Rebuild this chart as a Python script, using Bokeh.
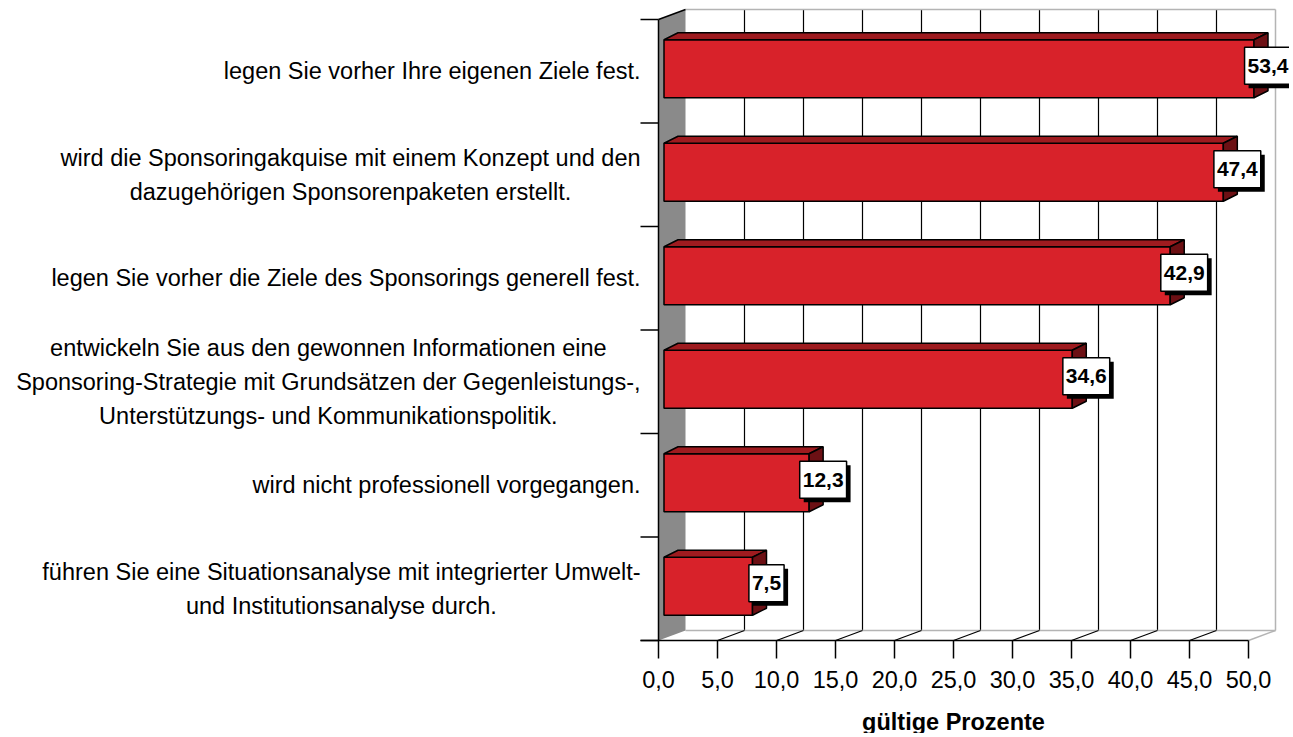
from bokeh.plotting import figure
from bokeh.models import Range1d
from bokeh.core.properties import value
from bokeh.embed import file_html
from bokeh.resources import INLINE

# ---------------- data ----------------
categories = [
    "legen Sie vorher Ihre eigenen Ziele fest.",
    "wird die Sponsoringakquise mit einem Konzept und den\ndazugehörigen Sponsorenpaketen erstellt.",
    "legen Sie vorher die Ziele des Sponsorings generell fest.",
    "entwickeln Sie aus den gewonnen Informationen eine\nSponsoring-Strategie mit Grundsätzen der Gegenleistungs-,\nUnterstützungs- und Kommunikationspolitik.",
    "wird nicht professionell vorgegangen.",
    "führen Sie eine Situationsanalyse mit integrierter Umwelt-\nund Institutionsanalyse durch.",
]
percent = [53.4, 47.4, 42.9, 34.6, 12.3, 7.5]
x_ticks = [0, 5, 10, 15, 20, 25, 30, 35, 40, 45, 50]
x_tick_labels = ["0,0", "5,0", "10,0", "15,0", "20,0", "25,0", "30,0", "35,0", "40,0", "45,0", "50,0"]
axis_title = "gültige Prozente"
axis_max = 50

# ---------------- layout / style ----------------
W, H, PAGE = 1289, 733, 0
X0 = 658.0          # screen x of value 0 on the front plane
PXU = 11.8          # px per percent
Y_TOP, Y_BOT = 19.0, 640.0
N = len(categories)
BAND = (Y_BOT - Y_TOP) / N
FONT = "Liberation Sans"

WALL_DX, WALL_DY = 27, 10     # depth of the back wall (px)
BAR_DX, BAR_DY = 14, 7        # depth of a bar (px)
BAR_OX, BAR_OY = 5.5, 2.5     # plane of the bars relative to front
BAR_HALF = 29                 # half height of bar front face (px)
TICK = 18

RED = "#d8222a"
RED_TOP = "#9e1b1f"
RED_SIDE = "#6c1014"
WALL_GRAY = "#8a8a8a"
LINE_GRAY = "#b4b4b4"

def px(d):
    return d / PXU

def py(d):
    return d / BAND

AW = {' ': 278, ',': 278, '-': 333, '.': 278,
      'A': 667, 'B': 667, 'C': 722, 'D': 722, 'E': 667, 'F': 611, 'G': 778, 'H': 722, 'I': 278,
      'J': 500, 'K': 667, 'L': 556, 'M': 833, 'N': 722, 'O': 778, 'P': 667, 'Q': 778, 'R': 722,
      'S': 667, 'T': 611, 'U': 722, 'V': 667, 'W': 944, 'X': 667, 'Y': 667, 'Z': 611,
      'a': 556, 'b': 556, 'c': 500, 'd': 556, 'e': 556, 'f': 278, 'g': 556, 'h': 556, 'i': 222,
      'j': 222, 'k': 500, 'l': 222, 'm': 833, 'n': 556, 'o': 556, 'p': 556, 'q': 556, 'r': 333,
      's': 500, 't': 278, 'u': 556, 'v': 500, 'w': 722, 'x': 500, 'y': 500, 'z': 500,
      'ä': 556, 'ö': 556, 'ü': 556, 'ß': 611}

def text_width(s, size):
    return sum(AW.get(c, 556) for c in s) * size / 1000.0

x_range = Range1d((PAGE - X0) / PXU, (PAGE + W - X0) / PXU)
y_range = Range1d((Y_BOT - (PAGE + H)) / BAND, (Y_BOT - PAGE) / BAND)

p = figure(width=W, height=H, x_range=x_range, y_range=y_range,
           output_backend="svg", toolbar_location=None,
           x_axis_location=None, y_axis_location=None,
           min_border=0, outline_line_color=None,
           background_fill_color="white", border_fill_color="white")
p.grid.visible = False

bx, by = px(WALL_DX), py(WALL_DY)

# back wall grid lines
grid_v = [t for t in x_ticks if 0 < t < axis_max]
p.segment(x0=[t + bx for t in grid_v], y0=[by] * len(grid_v),
          x1=[t + bx for t in grid_v], y1=[N + by] * len(grid_v),
          line_color="black", line_width=1.2)
# back wall borders
p.segment(x0=[bx, axis_max + bx, bx], y0=[N + by, by, by],
          x1=[axis_max + bx, axis_max + bx, axis_max + bx], y1=[N + by, N + by, by],
          line_color=LINE_GRAY, line_width=1.5)
# floor slanted lines
p.segment(x0=grid_v, y0=[0] * len(grid_v),
          x1=[t + bx for t in grid_v], y1=[by] * len(grid_v),
          line_color="black", line_width=1.2)
p.segment(x0=[axis_max], y0=[0], x1=[axis_max + bx], y1=[by],
          line_color=LINE_GRAY, line_width=1.5)

# left gray wall
p.patch(x=[0, 0, bx, bx], y=[0, N, N + by, by], fill_color=WALL_GRAY, line_color=None)
p.segment(x0=[0, 0], y0=[0, N], x1=[0, bx], y1=[N, N + by], line_color="black", line_width=1.5)

# y ticks and x axis line
p.segment(x0=[-px(TICK)] * (N + 1), y0=list(range(N + 1)),
          x1=[0] * (N + 1), y1=list(range(N + 1)), line_color="black", line_width=1.5)
p.segment(x0=[-px(TICK)], y0=[0], x1=[axis_max], y1=[0], line_color="black", line_width=1.5)
# x ticks
p.segment(x0=x_ticks, y0=[0] * len(x_ticks), x1=x_ticks, y1=[-py(TICK)] * len(x_ticks),
          line_color="black", line_width=1.5)
p.text(x=x_ticks, y=[-py(39)] * len(x_ticks), text=x_tick_labels,
       text_font=value(FONT), text_font_size=value("23.5px"), text_color="black",
       text_align="center", text_baseline="middle")
p.text(x=[axis_max / 2], y=[-py(81)], text=[axis_title],
       text_font=value(FONT), text_font_size=value("23.5px"), text_font_style="bold",
       text_color="black", text_align="center", text_baseline="middle")

# bars
front_l, front_r, front_b, front_t = [], [], [], []
top_xs, top_ys, side_xs, side_ys = [], [], [], []
lab_x, lab_y, lab_w, lab_txt = [], [], [], []
for i, v in enumerate(percent):
    uc = N - (i + 0.5) + py(BAR_OY)
    x0 = px(BAR_OX)
    x1 = min(v, axis_max) + px(BAR_OX)
    b, t = uc - py(BAR_HALF), uc + py(BAR_HALF)
    front_l.append(x0); front_r.append(x1); front_b.append(b); front_t.append(t)
    dx, dy = px(BAR_DX), py(BAR_DY)
    top_xs.append([x0, x1, x1 + dx, x0 + dx]); top_ys.append([t, t, t + dy, t + dy])
    side_xs.append([x1, x1, x1 + dx, x1 + dx]); side_ys.append([b, t, t + dy, b + dy])
    s = f"{v:.1f}".replace(".", ",")
    lab_txt.append(s)
    lab_x.append(x1 + dx)
    lab_y.append(uc + py(3))
    lab_w.append(text_width(s, 21) + 6)

p.quad(left=front_l, right=front_r, bottom=front_b, top=front_t,
       fill_color=RED, line_color="black", line_width=1.5)
p.patches(xs=top_xs, ys=top_ys, fill_color=RED_TOP, line_color="black", line_width=1.5)
p.patches(xs=side_xs, ys=side_ys, fill_color=RED_SIDE, line_color="black", line_width=1.5)

# value label boxes (shadow + box + text)
p.rect(x=[x + px(4) for x in lab_x], y=[y - py(4) for y in lab_y], width=lab_w, height=37,
       width_units="screen", height_units="screen", fill_color="black", line_color=None)
p.rect(x=lab_x, y=lab_y, width=lab_w, height=37, width_units="screen", height_units="screen",
       fill_color="white", line_color="black", line_width=1.5)
p.text(x=lab_x, y=lab_y, text=lab_txt, text_font=value(FONT), text_font_size=value("21px"),
       text_font_style="bold", text_color="black", text_align="center", text_baseline="middle")

# category labels (block right-aligned at the axis, lines centred)
RIGHT_EDGE = 640.0
cat_x, cat_y = [], []
for i, c in enumerate(categories):
    w = max(text_width(line, 23.5) for line in c.split("\n"))
    cat_x.append((RIGHT_EDGE - w / 2 - X0) / PXU)
    cat_y.append(N - (i + 0.5))
p.text(x=cat_x, y=cat_y, text=categories, text_font=value(FONT), text_font_size=value("23.5px"),
       text_color="black", text_align="center", text_baseline="middle", text_line_height=1.3)

open("out.html", "w").write(file_html(p, INLINE))
